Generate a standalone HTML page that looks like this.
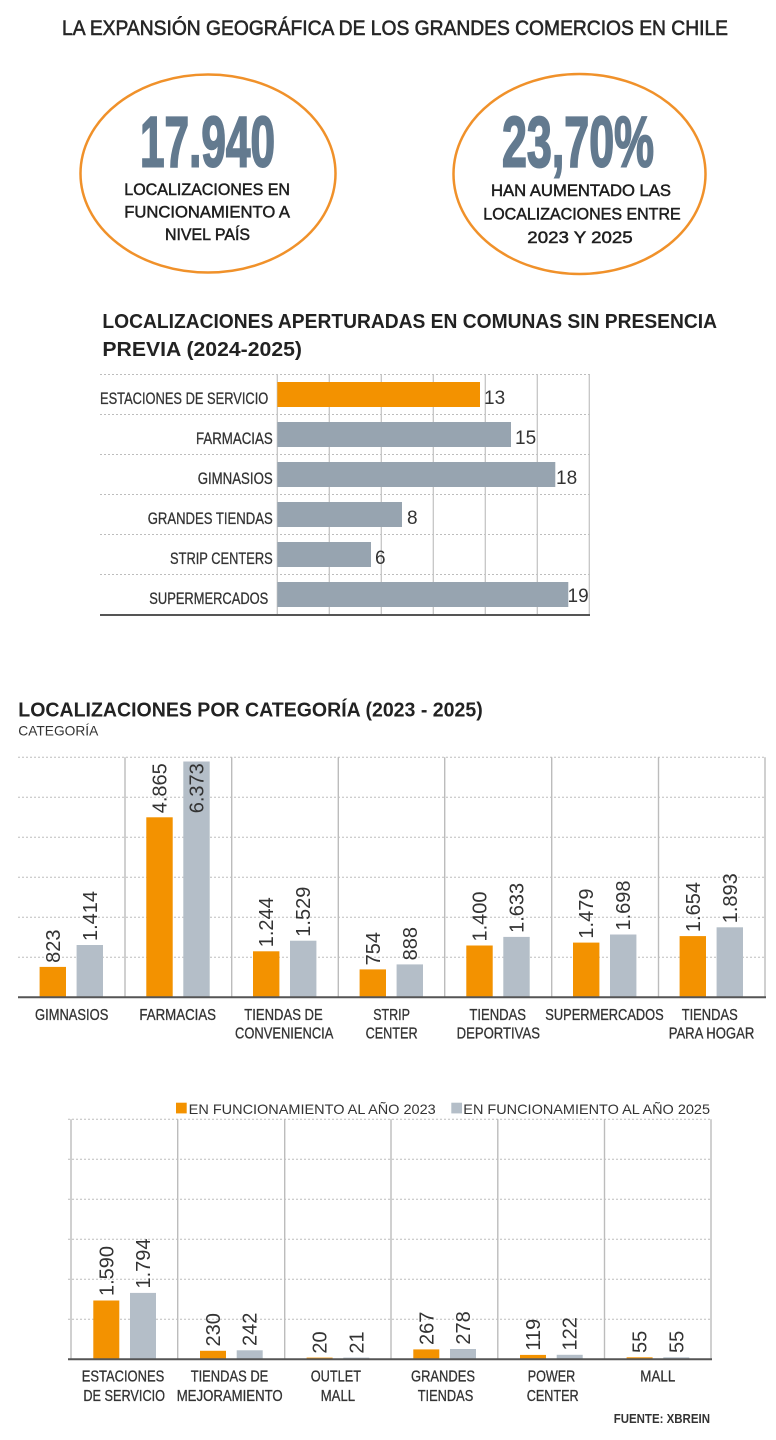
<!DOCTYPE html>
<html>
<head>
<meta charset="utf-8">
<style>
html,body{margin:0;padding:0;background:#fff;}
svg{display:block;}
text{font-family:"Liberation Sans",sans-serif;}
</style>
</head>
<body>
<svg width="776" height="1440" viewBox="0 0 776 1440" xmlns="http://www.w3.org/2000/svg">
<rect width="776" height="1440" fill="#fff"/>

<!-- Main title -->
<text x="62" y="35" font-size="21" fill="#262626" stroke="#262626" stroke-width="0.6" textLength="666" lengthAdjust="spacingAndGlyphs">LA EXPANSIÓN GEOGRÁFICA DE LOS GRANDES COMERCIOS EN CHILE</text>

<!-- Circles -->
<ellipse cx="208" cy="173.5" rx="127.5" ry="99" fill="none" stroke="#F0912A" stroke-width="2.5"/>
<ellipse cx="579.5" cy="174" rx="126" ry="100" fill="none" stroke="#F0912A" stroke-width="2.5"/>

<text x="140" y="166.5" font-size="71" font-weight="bold" fill="#637A8F" stroke="#637A8F" stroke-width="2" textLength="135" lengthAdjust="spacingAndGlyphs">17.940</text>
<text x="502" y="166.5" font-size="71" font-weight="bold" fill="#637A8F" stroke="#637A8F" stroke-width="2" textLength="152" lengthAdjust="spacingAndGlyphs">23,70%</text>

<g font-size="17" fill="#1e1e1e" stroke="#1e1e1e" stroke-width="0.5">
<text x="124.3" y="195" textLength="165.7" lengthAdjust="spacingAndGlyphs">LOCALIZACIONES EN</text>
<text x="124.3" y="217.5" textLength="165.7" lengthAdjust="spacingAndGlyphs">FUNCIONAMIENTO A</text>
<text x="165" y="240" textLength="85" lengthAdjust="spacingAndGlyphs">NIVEL PAÍS</text>
<text x="491" y="196" textLength="180" lengthAdjust="spacingAndGlyphs">HAN AUMENTADO LAS</text>
<text x="483.3" y="219.5" textLength="197.4" lengthAdjust="spacingAndGlyphs">LOCALIZACIONES ENTRE</text>
<text x="527.3" y="243" textLength="105.4" lengthAdjust="spacingAndGlyphs">2023 Y 2025</text>
</g>

<!-- Horizontal bar chart -->
<text x="102.4" y="328" font-size="20" font-weight="bold" fill="#222" textLength="614.6" lengthAdjust="spacingAndGlyphs">LOCALIZACIONES APERTURADAS EN COMUNAS SIN PRESENCIA</text>
<text x="102.4" y="356" font-size="20" font-weight="bold" fill="#222" textLength="199.6" lengthAdjust="spacingAndGlyphs">PREVIA (2024-2025)</text>

<g stroke="#bdbdbd" stroke-width="1" stroke-dasharray="2 2">
<line x1="100" y1="374.5" x2="591" y2="374.5"/>
<line x1="100" y1="414.5" x2="591" y2="414.5"/>
<line x1="100" y1="454.5" x2="591" y2="454.5"/>
<line x1="100" y1="494.5" x2="591" y2="494.5"/>
<line x1="100" y1="534.5" x2="591" y2="534.5"/>
<line x1="100" y1="574.5" x2="591" y2="574.5"/>
</g>
<g stroke="#c6c6c6" stroke-width="1.3">
<line x1="277.3" y1="374.5" x2="277.3" y2="615"/>
<line x1="329.3" y1="374.5" x2="329.3" y2="615"/>
<line x1="381.3" y1="374.5" x2="381.3" y2="615"/>
<line x1="433.3" y1="374.5" x2="433.3" y2="615"/>
<line x1="485.3" y1="374.5" x2="485.3" y2="615"/>
<line x1="537.3" y1="374.5" x2="537.3" y2="615"/>
<line x1="589.3" y1="374.5" x2="589.3" y2="615"/>
</g>
<rect x="277.3" y="382" width="202.7" height="25" fill="#F39200"/>
<rect x="277.3" y="422" width="233.7" height="25" fill="#97A4B0"/>
<rect x="277.3" y="462" width="278" height="25" fill="#97A4B0"/>
<rect x="277.3" y="502" width="124.7" height="25" fill="#97A4B0"/>
<rect x="277.3" y="542" width="93.7" height="25" fill="#97A4B0"/>
<rect x="277.3" y="582" width="291" height="25" fill="#97A4B0"/>
<line x1="100" y1="615" x2="590" y2="615" stroke="#555" stroke-width="2"/>

<g font-size="17" fill="#333" stroke="#333" stroke-width="0.3" text-anchor="end">
<text x="268.3" y="404" textLength="168.3" lengthAdjust="spacingAndGlyphs">ESTACIONES DE SERVICIO</text>
<text x="272.7" y="444" textLength="76.7" lengthAdjust="spacingAndGlyphs">FARMACIAS</text>
<text x="272.7" y="484" textLength="75" lengthAdjust="spacingAndGlyphs">GIMNASIOS</text>
<text x="272.7" y="524" textLength="125" lengthAdjust="spacingAndGlyphs">GRANDES TIENDAS</text>
<text x="272.7" y="564" textLength="102.7" lengthAdjust="spacingAndGlyphs">STRIP CENTERS</text>
<text x="268.3" y="604" textLength="119" lengthAdjust="spacingAndGlyphs">SUPERMERCADOS</text>
</g>
<g font-size="19" fill="#333">
<text x="484" y="404">13</text>
<text x="515" y="444">15</text>
<text x="556" y="484">18</text>
<text x="407" y="524">8</text>
<text x="375" y="564">6</text>
<text x="567.5" y="602">19</text>
</g>

<!-- Column chart 1 -->
<text x="18.3" y="716.7" font-size="20" font-weight="bold" fill="#222" textLength="464.4" lengthAdjust="spacingAndGlyphs">LOCALIZACIONES POR CATEGORÍA (2023 - 2025)</text>
<text x="18.3" y="735.7" font-size="14" fill="#333" textLength="80" lengthAdjust="spacingAndGlyphs">CATEGORÍA</text>

<g stroke="#bdbdbd" stroke-width="1" stroke-dasharray="2 2">
<line x1="18" y1="757.3" x2="766" y2="757.3"/>
<line x1="18" y1="797.3" x2="766" y2="797.3"/>
<line x1="18" y1="837.3" x2="766" y2="837.3"/>
<line x1="18" y1="877.3" x2="766" y2="877.3"/>
<line x1="18" y1="917.3" x2="766" y2="917.3"/>
<line x1="18" y1="957.3" x2="766" y2="957.3"/>
</g>
<g stroke="#bcbcbc" stroke-width="1.4">
<line x1="125" y1="757.3" x2="125" y2="997.3"/>
<line x1="231.7" y1="757.3" x2="231.7" y2="997.3"/>
<line x1="338.3" y1="757.3" x2="338.3" y2="997.3"/>
<line x1="444.7" y1="757.3" x2="444.7" y2="997.3"/>
<line x1="551.7" y1="757.3" x2="551.7" y2="997.3"/>
<line x1="658.5" y1="757.3" x2="658.5" y2="997.3"/>
<line x1="765" y1="757.3" x2="765" y2="997.3"/>
</g>
<g>
<rect x="39.6" y="966.9" width="26.4" height="30.4" fill="#F39200"/>
<rect x="76.6" y="945" width="26.4" height="52.3" fill="#B4BEC8"/>
<rect x="146.3" y="817.3" width="26.4" height="180" fill="#F39200"/>
<rect x="183.3" y="761.5" width="26.4" height="235.8" fill="#B4BEC8"/>
<rect x="253" y="951.3" width="26.4" height="46" fill="#F39200"/>
<rect x="290" y="940.7" width="26.4" height="56.6" fill="#B4BEC8"/>
<rect x="359.6" y="969.4" width="26.4" height="27.9" fill="#F39200"/>
<rect x="396.6" y="964.4" width="26.4" height="32.9" fill="#B4BEC8"/>
<rect x="466.3" y="945.5" width="26.4" height="51.8" fill="#F39200"/>
<rect x="503.3" y="936.9" width="26.4" height="60.4" fill="#B4BEC8"/>
<rect x="573" y="942.6" width="26.4" height="54.7" fill="#F39200"/>
<rect x="610" y="934.5" width="26.4" height="62.8" fill="#B4BEC8"/>
<rect x="679.6" y="936.1" width="26.4" height="61.2" fill="#F39200"/>
<rect x="716.6" y="927.3" width="26.4" height="70" fill="#B4BEC8"/>
</g>
<line x1="18" y1="997.3" x2="766" y2="997.3" stroke="#555" stroke-width="2"/>

<g font-size="20" fill="#333">
<text transform="translate(59.8,962.9) rotate(-90)">823</text>
<text transform="translate(96.8,941) rotate(-90)">1.414</text>
<text transform="translate(166.5,813.3) rotate(-90)">4.865</text>
<text transform="translate(203.5,813.3) rotate(-90)">6.373</text>
<text transform="translate(273.2,947.3) rotate(-90)">1.244</text>
<text transform="translate(310.2,936.7) rotate(-90)">1.529</text>
<text transform="translate(379.8,965.4) rotate(-90)">754</text>
<text transform="translate(416.8,960.4) rotate(-90)">888</text>
<text transform="translate(486.5,941.5) rotate(-90)">1.400</text>
<text transform="translate(523.5,932.9) rotate(-90)">1.633</text>
<text transform="translate(593.2,938.6) rotate(-90)">1.479</text>
<text transform="translate(630.2,930.5) rotate(-90)">1.698</text>
<text transform="translate(699.8,932.1) rotate(-90)">1.654</text>
<text transform="translate(736.8,923.3) rotate(-90)">1.893</text>
</g>

<g font-size="15.5" fill="#333" stroke="#333" stroke-width="0.3" text-anchor="middle">
<text x="71.7" y="1020" textLength="73.3" lengthAdjust="spacingAndGlyphs">GIMNASIOS</text>
<text x="177.7" y="1020" textLength="76.7" lengthAdjust="spacingAndGlyphs">FARMACIAS</text>
<text x="283.5" y="1020" textLength="78.4" lengthAdjust="spacingAndGlyphs">TIENDAS DE</text>
<text x="284.2" y="1038.5" textLength="98.3" lengthAdjust="spacingAndGlyphs">CONVENIENCIA</text>
<text x="391.6" y="1020" textLength="36.8" lengthAdjust="spacingAndGlyphs">STRIP</text>
<text x="391.6" y="1038.5" textLength="52" lengthAdjust="spacingAndGlyphs">CENTER</text>
<text x="497.7" y="1020" textLength="56.7" lengthAdjust="spacingAndGlyphs">TIENDAS</text>
<text x="498.3" y="1038.5" textLength="83.3" lengthAdjust="spacingAndGlyphs">DEPORTIVAS</text>
<text x="604.5" y="1020" textLength="118.4" lengthAdjust="spacingAndGlyphs">SUPERMERCADOS</text>
<text x="709.7" y="1020" textLength="56" lengthAdjust="spacingAndGlyphs">TIENDAS</text>
<text x="711.5" y="1038.5" textLength="85.6" lengthAdjust="spacingAndGlyphs">PARA HOGAR</text>
</g>

<!-- Column chart 2 -->
<rect x="176" y="1102.7" width="10.7" height="10.7" fill="#F39200"/>
<text x="188.7" y="1114" font-size="14" fill="#333" textLength="247" lengthAdjust="spacingAndGlyphs">EN FUNCIONAMIENTO AL AÑO 2023</text>
<rect x="451.3" y="1102.7" width="10.7" height="10.7" fill="#B4BEC8"/>
<text x="463.3" y="1114" font-size="14" fill="#333" textLength="246.7" lengthAdjust="spacingAndGlyphs">EN FUNCIONAMIENTO AL AÑO 2025</text>

<g stroke="#bdbdbd" stroke-width="1" stroke-dasharray="2 2">
<line x1="68" y1="1119.3" x2="712" y2="1119.3"/>
<line x1="68" y1="1159.3" x2="712" y2="1159.3"/>
<line x1="68" y1="1199.3" x2="712" y2="1199.3"/>
<line x1="68" y1="1239.3" x2="712" y2="1239.3"/>
<line x1="68" y1="1279.3" x2="712" y2="1279.3"/>
<line x1="68" y1="1319.3" x2="712" y2="1319.3"/>
</g>
<g stroke="#bcbcbc" stroke-width="1.4">
<line x1="71" y1="1119.3" x2="71" y2="1359.3"/>
<line x1="177.7" y1="1119.3" x2="177.7" y2="1359.3"/>
<line x1="284.7" y1="1119.3" x2="284.7" y2="1359.3"/>
<line x1="391" y1="1119.3" x2="391" y2="1359.3"/>
<line x1="497.8" y1="1119.3" x2="497.8" y2="1359.3"/>
<line x1="604.5" y1="1119.3" x2="604.5" y2="1359.3"/>
<line x1="711" y1="1119.3" x2="711" y2="1359.3"/>
</g>
<g>
<rect x="93.3" y="1300.5" width="26" height="58.8" fill="#F39200"/>
<rect x="130" y="1292.9" width="26" height="66.4" fill="#B4BEC8"/>
<rect x="200" y="1350.8" width="26" height="8.5" fill="#F39200"/>
<rect x="236.7" y="1350.3" width="26" height="9" fill="#B4BEC8"/>
<rect x="306.6" y="1357.6" width="26" height="1.7" fill="#F39200"/>
<rect x="343.3" y="1357.6" width="26" height="1.7" fill="#B4BEC8"/>
<rect x="413.3" y="1349.4" width="26" height="9.9" fill="#F39200"/>
<rect x="450" y="1349" width="26" height="10.3" fill="#B4BEC8"/>
<rect x="520" y="1354.9" width="26" height="4.4" fill="#F39200"/>
<rect x="556.7" y="1354.8" width="26" height="4.5" fill="#B4BEC8"/>
<rect x="626.6" y="1357.3" width="26" height="2" fill="#F39200"/>
<rect x="663.3" y="1357.3" width="26" height="2" fill="#B4BEC8"/>
</g>
<line x1="68" y1="1359.3" x2="712" y2="1359.3" stroke="#555" stroke-width="2"/>

<g font-size="20" fill="#333">
<text transform="translate(113.3,1296) rotate(-90)">1.590</text>
<text transform="translate(150,1288.5) rotate(-90)">1.794</text>
<text transform="translate(220,1346.5) rotate(-90)">230</text>
<text transform="translate(256.7,1346) rotate(-90)">242</text>
<text transform="translate(326.6,1353.6) rotate(-90)">20</text>
<text transform="translate(363.3,1353.6) rotate(-90)">21</text>
<text transform="translate(433.3,1345) rotate(-90)">267</text>
<text transform="translate(470,1344.6) rotate(-90)">278</text>
<text transform="translate(540,1350.6) rotate(-90)">119</text>
<text transform="translate(576.7,1350.5) rotate(-90)">122</text>
<text transform="translate(646.6,1353) rotate(-90)">55</text>
<text transform="translate(683.3,1353) rotate(-90)">55</text>
</g>

<g font-size="15.5" fill="#333" stroke="#333" stroke-width="0.3" text-anchor="middle">
<text x="123" y="1381.7" textLength="82.6" lengthAdjust="spacingAndGlyphs">ESTACIONES</text>
<text x="124.2" y="1401" textLength="81.7" lengthAdjust="spacingAndGlyphs">DE SERVICIO</text>
<text x="229.5" y="1381.7" textLength="77.6" lengthAdjust="spacingAndGlyphs">TIENDAS DE</text>
<text x="229.7" y="1401" textLength="106" lengthAdjust="spacingAndGlyphs">MEJORAMIENTO</text>
<text x="335.9" y="1381.7" textLength="50.3" lengthAdjust="spacingAndGlyphs">OUTLET</text>
<text x="337.9" y="1401" textLength="34.3" lengthAdjust="spacingAndGlyphs">MALL</text>
<text x="443" y="1381.7" textLength="64" lengthAdjust="spacingAndGlyphs">GRANDES</text>
<text x="445.5" y="1401" textLength="55.6" lengthAdjust="spacingAndGlyphs">TIENDAS</text>
<text x="551.5" y="1381.7" textLength="47.6" lengthAdjust="spacingAndGlyphs">POWER</text>
<text x="552.7" y="1401" textLength="52" lengthAdjust="spacingAndGlyphs">CENTER</text>
<text x="657.8" y="1381.7" textLength="35" lengthAdjust="spacingAndGlyphs">MALL</text>
</g>

<text x="613.7" y="1423" font-size="13" font-weight="bold" fill="#333" textLength="96.3" lengthAdjust="spacingAndGlyphs">FUENTE: XBREIN</text>
</svg>
</body>
</html>
